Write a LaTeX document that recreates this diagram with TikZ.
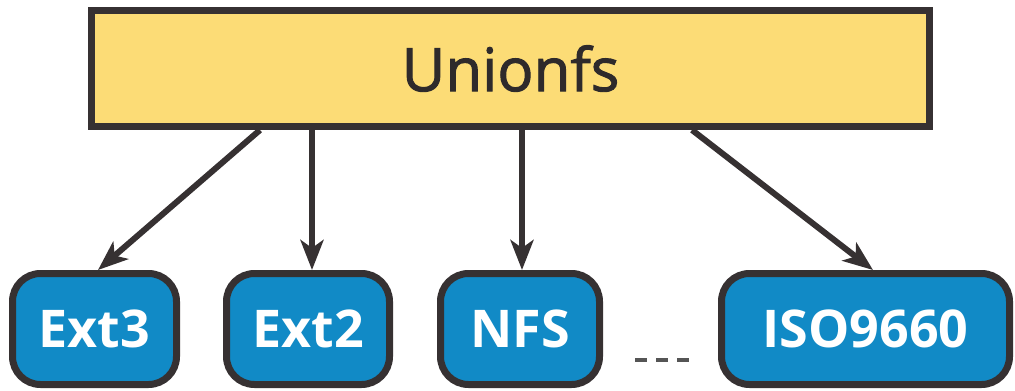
\documentclass[tikz,border=0pt]{standalone}
\usepackage{fontspec}
\setmainfont{Open Sans}
\newfontfamily\unionfont{Open Sans}[FakeBold=1.6]
\usetikzlibrary{arrows.meta}
\definecolor{boxline}{HTML}{363132}
\definecolor{topfill}{HTML}{FCDC76}
\definecolor{bluefill}{HTML}{118AC6}
\definecolor{toptext}{HTML}{2E2A2B}
\definecolor{dashgrey}{HTML}{555555}
\begin{document}
\begin{tikzpicture}[x=1pt,y=-1pt,
  topbox/.style={draw=boxline, line width=7pt, fill=topfill, inner sep=0pt,
    minimum width=838pt, minimum height=116pt,
    font=\unionfont\fontsize{60}{66}\selectfont, text=toptext},
  fsbox/.style={draw=boxline, line width=7pt, fill=bluefill, inner sep=0pt,
    rounded corners=28pt, minimum height=111pt,
    font=\fontsize{52}{58}\selectfont\bfseries, text=white},
  arr/.style={draw=boxline, line width=6pt,
    -{Stealth[length=30pt,width=23pt,inset=8pt]}},
  dots/.style={draw=dashgrey, line width=4pt, dash pattern=on 12pt off 9pt}
]
\useasboundingbox (0,0) rectangle (1015,391);
\node[topbox] (top) at (510.5,68.5) {Unionfs};
\node[fsbox, minimum width=164pt] (ext3) at (94.5,329) {Ext3};
\node[fsbox, minimum width=163pt] (ext2) at (308,329) {Ext2};
\node[fsbox, minimum width=159pt] (nfs) at (520,329) {NFS};
\node[fsbox, minimum width=288pt] (iso) at (865.5,329) {ISO9660};
\coordinate (s1) at (260,0);
\coordinate (s2) at (312,0);
\coordinate (s3) at (522,0);
\coordinate (s4) at (692,0);
\coordinate (e1) at (98,0);
\coordinate (e4) at (873,0);
\draw[arr] (top.south -| s1) -- (ext3.north -| e1);
\draw[arr] (top.south -| s2) -- (ext2.north -| s2);
\draw[arr] (top.south -| s3) -- (nfs.north -| s3);
\draw[arr] (top.south -| s4) -- (iso.north -| e4);
\coordinate (d1) at (635,360);
\coordinate (d2) at (690,360);
\draw[dots] (d1) -- (d2);
\end{tikzpicture}
\end{document}
